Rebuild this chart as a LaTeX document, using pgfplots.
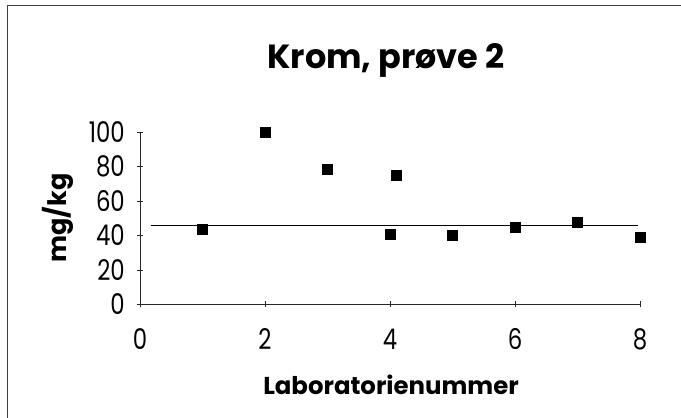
\documentclass[border=0pt]{standalone}
\usepackage{fontspec}
\setmainfont{Poppins}
\newfontfamily\tickfont{Poppins}[FakeStretch=0.8]
\usepackage{pgfplots}
\pgfplotsset{compat=1.18}
\begin{document}
\begin{tikzpicture}[x=1pt,y=1pt]
\useasboundingbox (0,0) rectangle (681,418);
\draw[line width=1pt, black!75] (7,0) -- (7,412) -- (681,412);
\begin{axis}[
  at={(140pt,113.7pt)}, anchor=south west,
  scale only axis, width=500pt, height=172pt,
  xmin=0, xmax=8, ymin=0, ymax=100,
  axis x line=bottom, axis y line=left,
  axis line style={-, line width=0.9pt, black!85},
  xtick={0,2,4,6,8}, ytick={0,20,40,60,80,100},
  tick align=center, major tick length=6pt,
  tick style={line width=0.8pt, black!85},
  /pgf/number format/assume math mode=true,
  ticklabel style={font=\tickfont\fontsize{28.5}{32}\selectfont, inner sep=0pt},
  xticklabel style={anchor=center, yshift=-32pt},
  yticklabel style={anchor=east, xshift=-12pt},
  clip=false,
  title={Krom, prøve 2},
  title style={font=\bfseries\fontsize{33.5}{40}\selectfont, at={(axis description cs:0.492,1)}, anchor=base, yshift=57.3pt, inner sep=0pt},
  xlabel={Laboratorienummer},
  xlabel style={font=\bfseries\fontsize{24.4}{29}\selectfont, at={(axis description cs:0.502,0)}, anchor=base, yshift=-89.7pt, inner sep=0pt},
  ylabel={mg/kg},
  ylabel style={font=\bfseries\fontsize{25.5}{30}\selectfont, at={(axis description cs:0,0.502)}, anchor=center, yshift=82pt, inner sep=0pt},
]
\addplot[only marks, mark=square*, mark size=5pt, mark options={fill=black, draw=black}] coordinates {
  (1,43.6) (2,100) (3,78.8) (4.1,75.3) (4,41.0) (5,39.9) (6,44.8) (7,47.8) (8,39.3)
};
\addplot[black, line width=1pt] coordinates {(0.17,46.1) (7.97,46.1)};
\end{axis}
\end{tikzpicture}
\end{document}
